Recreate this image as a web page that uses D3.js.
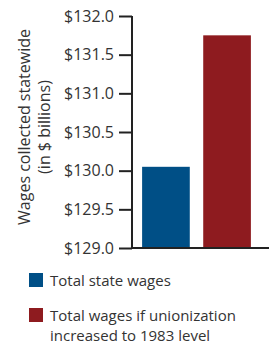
<!DOCTYPE html>
<html><head><meta charset="utf-8">
<script src="https://cdn.jsdelivr.net/npm/d3@7"></script>
<style>body{margin:0;background:#fff;} svg{display:block;font-family:"Open Sans",sans-serif;}</style>
</head><body>
<script>
const categories = ["Total state wages", "Total wages if unionization increased to 1983 level"];
const values = [130.05, 131.75];
const colors = ["#004f86", "#8e1b1f"];
const tickValues = [129.0, 129.5, 130.0, 130.5, 131.0, 131.5, 132.0];
const legendLines = [["Total state wages"], ["Total wages if unionization", "increased to 1983 level"]];

const W = 269, H = 347;
const svg = d3.select("body").append("svg").attr("width", W).attr("height", H);
const x0 = 132, x1 = 269, yTop = 16, yBot = 248;
const y = d3.scaleLinear().domain([129, 132]).range([yBot, yTop]);
const x = d3.scaleBand().domain(categories).range([x0 + 4, x1 - 12]).paddingInner(0.22).paddingOuter(0.1);

svg.selectAll("rect.bar").data(values).enter().append("rect")
  .attr("class", "bar")
  .attr("x", (d, i) => x(categories[i]))
  .attr("width", x.bandwidth())
  .attr("y", d => y(d))
  .attr("height", d => yBot - y(d))
  .attr("fill", (d, i) => colors[i]);

const axis = d3.axisLeft(y).tickValues(tickValues).tickSize(13).tickPadding(5)
  .tickFormat(d => "$" + d.toFixed(1));
const g = svg.append("g").attr("transform", `translate(${x0},0)`).call(axis);
g.select(".domain").attr("d", `M0,${yTop}V${yBot}`).attr("stroke", "#222").attr("stroke-width", 2);
g.selectAll(".tick line").attr("stroke", "#222").attr("stroke-width", 2);
g.selectAll(".tick text").attr("font-size", 16).attr("fill", "#333").attr("font-family", "'Open Sans',sans-serif");

svg.append("line").attr("x1", x0 - 1).attr("x2", x1).attr("y1", yBot).attr("y2", yBot)
  .attr("stroke", "#222").attr("stroke-width", 2);

const title = svg.append("text").attr("transform", "translate(0,127) rotate(-90)")
  .attr("text-anchor", "middle").attr("font-size", 16).attr("fill", "#333");
title.append("tspan").attr("x", 0).attr("y", 30).text("Wages collected statewide");
title.append("tspan").attr("x", 0).attr("y", 50).text("(in $ billions)");

const lg = svg.append("g");
const legY = [273, 308];
legendLines.forEach((lines, i) => {
  lg.append("rect").attr("x", 29).attr("y", legY[i]).attr("width", 14).attr("height", 14).attr("fill", colors[i]);
  lines.forEach((t, j) => {
    lg.append("text").attr("x", 50).attr("y", legY[i] + 12.5 + j * 20.5)
      .attr("font-size", 15).attr("fill", "#333").text(t);
  });
});
</script>
</body></html>
